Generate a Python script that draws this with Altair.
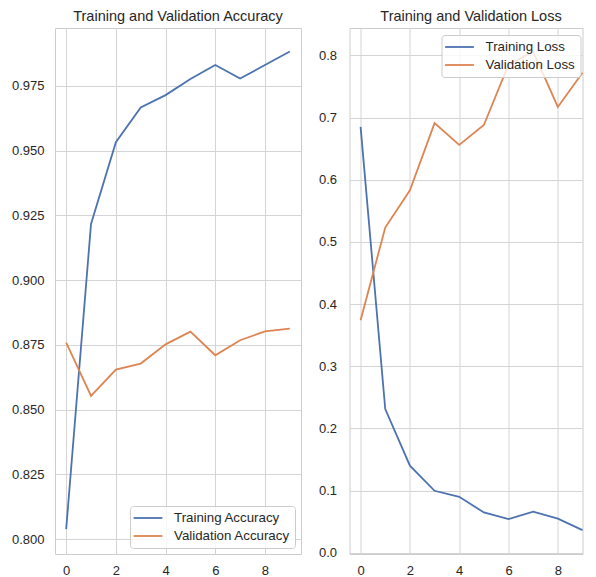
import altair as alt
import pandas as pd

# ---- data ----
epochs = [0, 1, 2, 3, 4, 5, 6, 7, 8, 9]
train_acc = [0.8039, 0.9217, 0.9532, 0.9666, 0.9714, 0.9776, 0.9830, 0.9778, 0.9830, 0.9882]
val_acc = [0.8759, 0.8553, 0.8655, 0.8678, 0.8752, 0.8801, 0.8710, 0.8768, 0.8802, 0.8813]
train_loss = [0.685, 0.231, 0.140, 0.0997, 0.090, 0.0648, 0.054, 0.066, 0.055, 0.0365]
val_loss = [0.374, 0.523, 0.583, 0.691, 0.656, 0.688, 0.785, 0.806, 0.717, 0.772]

acc_series = ["Training Accuracy", "Validation Accuracy"]
loss_series = ["Training Loss", "Validation Loss"]
acc_ticks = [0.800, 0.825, 0.850, 0.875, 0.900, 0.925, 0.950, 0.975]
loss_ticks = [0.0, 0.1, 0.2, 0.3, 0.4, 0.5, 0.6, 0.7, 0.8]
x_ticks = [0, 2, 4, 6, 8]

BLUE = "#4C72B0"
ORANGE = "#DD8452"
FONT = "Liberation Sans"
TXT = "#262626"

acc_df = pd.DataFrame({
    "epoch": epochs * 2,
    "value": train_acc + val_acc,
    "series": [acc_series[0]] * 10 + [acc_series[1]] * 10,
})
loss_df = pd.DataFrame({
    "epoch": epochs * 2,
    "value": train_loss + val_loss,
    "series": [loss_series[0]] * 10 + [loss_series[1]] * 10,
})


def make_legend(**pos):
    return alt.Legend(
        title=None,
        fillColor="rgba(255,255,255,0.8)", strokeColor="#cccccc",
        cornerRadius=3, padding=5,
        labelFont=FONT, labelFontSize=13.3, labelColor=TXT,
        symbolType="M-2.4,0L2.4,0", symbolSize=144, symbolStrokeWidth=1.8,
        symbolOffset=6, labelOffset=19, rowPadding=4,
        **pos,
    )


def panel(df, series, xdomain, ydomain, yticks, yfmt, ypad, title, legend, w):
    return alt.Chart(df).mark_line(strokeWidth=1.8).encode(
        x=alt.X("epoch:Q",
                scale=alt.Scale(domain=xdomain, nice=False, zero=False),
                axis=alt.Axis(values=x_ticks, format="d", title=None, labelPadding=10)),
        y=alt.Y("value:Q",
                scale=alt.Scale(domain=ydomain, nice=False, zero=False),
                axis=alt.Axis(values=yticks, format=yfmt, title=None, labelPadding=ypad)),
        color=alt.Color("series:N",
                        scale=alt.Scale(domain=series, range=[BLUE, ORANGE]),
                        legend=legend),
    ).properties(width=w, height=526, title=title)


left = panel(acc_df, acc_series, [-0.45, 9.45], [0.7943, 0.9973], acc_ticks, ".3f", 11,
             alt.TitleParams("Training and Validation Accuracy"),
             make_legend(orient="bottom-right", offset=6), 246)
right = panel(loss_df, loss_series, [-0.45, 9.0], [-0.002, 0.844], loss_ticks, ".1f", 13,
              alt.TitleParams("Training and Validation Loss", dx=5),
              make_legend(orient="none", legendX=92, legendY=7), 233)

chart = alt.hconcat(left, right, spacing=15.5).resolve_scale(
    color="independent"
).resolve_legend(color="independent").properties(
    padding={"left": 2, "top": 0, "right": 0, "bottom": 0},
    background="white",
).configure_view(
    stroke="#cccccc", strokeWidth=1
).configure_axis(
    labelFont=FONT, labelFontSize=13, labelColor=TXT,
    grid=True, gridColor="#d4d4d4", gridWidth=1,
    domain=False, ticks=False, tickSize=0,
).configure_title(
    font=FONT, fontSize=14.5, fontWeight="normal", color=TXT, offset=0
)

chart.save("out.html", embed_options={"renderer": "svg", "actions": False})
